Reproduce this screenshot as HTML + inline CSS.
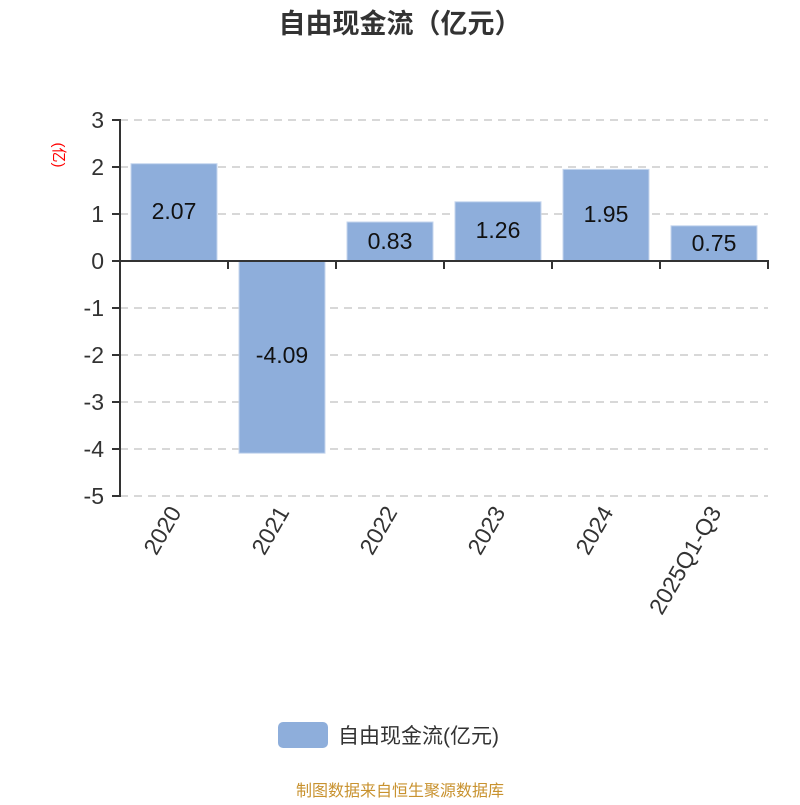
<!DOCTYPE html>
<html><head><meta charset="utf-8"><style>body{margin:0;background:#fff}</style></head><body>
<svg width="800" height="800" xmlns="http://www.w3.org/2000/svg" font-family="'Liberation Sans','Noto Sans CJK SC',sans-serif">
<rect width="800" height="800" fill="#fff"/>
<text x="400" y="33" text-anchor="middle" font-size="27" font-weight="bold" fill="#333">自由现金流（亿元）</text>
<text transform="translate(54,155) rotate(90)" text-anchor="middle" font-size="15" fill="#f00">(亿)</text>
<g stroke="#ccc" stroke-dasharray="8,6" stroke-width="1.5">
<line x1="120" y1="120" x2="768" y2="120"/><line x1="120" y1="167" x2="768" y2="167"/><line x1="120" y1="214" x2="768" y2="214"/>
<line x1="120" y1="308" x2="768" y2="308"/><line x1="120" y1="355" x2="768" y2="355"/><line x1="120" y1="402" x2="768" y2="402"/>
<line x1="120" y1="449" x2="768" y2="449"/><line x1="120" y1="496" x2="768" y2="496"/>
</g>
<g fill="#8eaedb" stroke="#c5d6ee" stroke-width="1">
<rect x="131" y="163.7" width="86" height="97.3"/>
<rect x="239" y="261" width="86" height="192.2"/>
<rect x="347" y="222" width="86" height="39"/>
<rect x="455" y="201.8" width="86" height="59.2"/>
<rect x="563" y="169.4" width="86" height="91.6"/>
<rect x="671" y="225.8" width="86" height="35.2"/>
</g>
<g font-size="23" fill="#111" text-anchor="middle">
<text x="174" y="219">2.07</text><text x="282" y="363">-4.09</text><text x="390" y="249">0.83</text>
<text x="498" y="238">1.26</text><text x="606" y="222">1.95</text><text x="714" y="251">0.75</text>
</g>
<g stroke="#333" stroke-width="2">
<line x1="120" y1="119" x2="120" y2="497"/>
<line x1="119" y1="261" x2="769" y2="261"/>
<line x1="112" y1="120" x2="120" y2="120"/><line x1="112" y1="167" x2="120" y2="167"/><line x1="112" y1="214" x2="120" y2="214"/>
<line x1="112" y1="261" x2="120" y2="261"/><line x1="112" y1="308" x2="120" y2="308"/><line x1="112" y1="355" x2="120" y2="355"/>
<line x1="112" y1="402" x2="120" y2="402"/><line x1="112" y1="449" x2="120" y2="449"/><line x1="112" y1="496" x2="120" y2="496"/>
<line x1="228" y1="261" x2="228" y2="269"/><line x1="336" y1="261" x2="336" y2="269"/><line x1="444" y1="261" x2="444" y2="269"/>
<line x1="552" y1="261" x2="552" y2="269"/><line x1="660" y1="261" x2="660" y2="269"/><line x1="768" y1="261" x2="768" y2="269"/>
</g>
<g font-size="23" fill="#333" text-anchor="end">
<text x="104" y="128">3</text><text x="104" y="175">2</text><text x="104" y="222">1</text><text x="104" y="269">0</text>
<text x="104" y="316">-1</text><text x="104" y="363">-2</text><text x="104" y="410">-3</text><text x="104" y="457">-4</text><text x="104" y="504">-5</text>
</g>
<g font-size="23" fill="#333" text-anchor="end">
<text transform="translate(182,512) rotate(-60)">2020</text>
<text transform="translate(290,512) rotate(-60)">2021</text>
<text transform="translate(398,512) rotate(-60)">2022</text>
<text transform="translate(506,512) rotate(-60)">2023</text>
<text transform="translate(614,512) rotate(-60)">2024</text>
<text transform="translate(722,512) rotate(-60)">2025Q1-Q3</text>
</g>
<rect x="278" y="722" width="50" height="26" rx="5" fill="#8eaedb"/>
<text x="338" y="743" font-size="21" fill="#333">自由现金流(亿元)</text>
<text x="400" y="796" text-anchor="middle" font-size="16" fill="#c8922f">制图数据来自恒生聚源数据库</text>
</svg>
</body></html>
